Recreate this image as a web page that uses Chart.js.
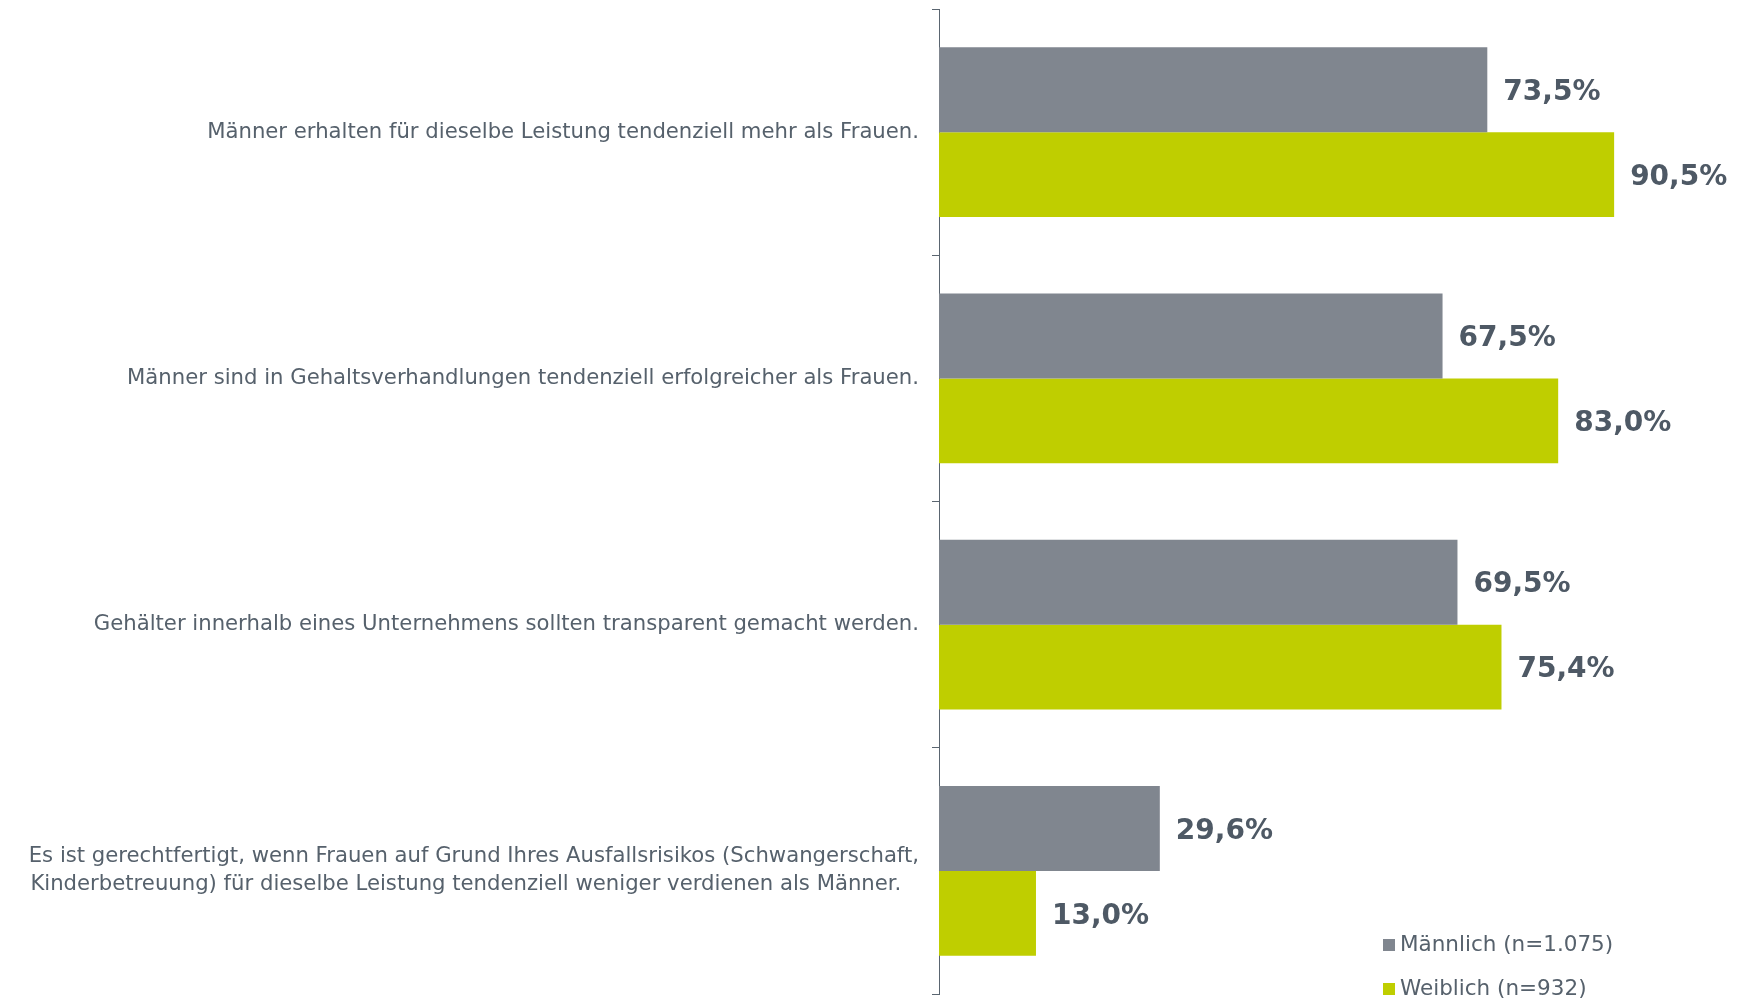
<!DOCTYPE html>
<html lang="de">
<head>
<meta charset="utf-8">
<title>Gehaltsgerechtigkeit</title>
<script src="https://cdn.jsdelivr.net/npm/chart.js@4.4.1/dist/chart.umd.min.js"></script>
<style>
  html, body { margin: 0; padding: 0; background: #ffffff; }
  #wrap { width: 1746px; height: 1003px; }
</style>
</head>
<body>
<div id="wrap"><canvas id="gehalt_cntxt" width="1746" height="1003"></canvas></div>
<script>
var aussagen = [
    "Männer erhalten für dieselbe Leistung tendenziell mehr als Frauen.",
    "Männer sind in Gehaltsverhandlungen tendenziell erfolgreicher als Frauen.",
    "Gehälter innerhalb eines Unternehmens sollten transparent gemacht werden.",
    ["Es ist gerechtfertigt, wenn Frauen auf Grund Ihres Ausfallsrisikos (Schwangerschaft,",
     "Kinderbetreuung) für dieselbe Leistung tendenziell weniger verdienen als Männer.  \u2009"]
];
var maennlich = [73.5, 67.5, 69.5, 29.6];
var weiblich = [90.5, 83.0, 75.4, 13.0];
var serien = ["Männlich (n=1.075)", "Weiblich (n=932)"];

var textFarbe = '#56616c';

function prozent(v) {
    return v.toFixed(1).replace('.', ',') + '%';
}

// Werte rechts neben die Balken schreiben
var wertLabels = {
    id: 'wertLabels',
    afterDatasetsDraw: function(chart) {
        var ctx = chart.ctx;
        ctx.save();
        ctx.font = 'bold 28px "DejaVu Sans", Verdana, sans-serif';
        ctx.fillStyle = '#4e5965';
        ctx.textAlign = 'left';
        ctx.textBaseline = 'middle';
        chart.data.datasets.forEach(function(ds, i) {
            chart.getDatasetMeta(i).data.forEach(function(bar, j) {
                ctx.fillText(prozent(ds.data[j]), bar.x + 16, bar.y + 3);
            });
        });
        ctx.restore();
    }
};

// Legende unten rechts, untereinander
var legendeUnten = {
    id: 'legendeUnten',
    afterDraw: function(chart) {
        var ctx = chart.ctx;
        ctx.save();
        ctx.font = '21.5px "DejaVu Sans", Verdana, sans-serif';
        ctx.textBaseline = 'middle';
        ctx.textAlign = 'left';
        chart.data.datasets.forEach(function(ds, i) {
            var y = 945 + i * 44;
            ctx.fillStyle = ds.backgroundColor;
            ctx.fillRect(1383, y - 6, 12, 12);
            ctx.fillStyle = textFarbe;
            ctx.fillText(ds.label, 1400, y);
        });
        ctx.restore();
    }
};

var current_cntxt = document.getElementById("gehalt_cntxt").getContext('2d');
var gehalt_chart = new Chart(current_cntxt, {
    type: 'bar',
    data: {
        labels: aussagen,
        datasets: [{
            label: serien[0],
            data: maennlich,
            backgroundColor: '#80868f',
            categoryPercentage: 0.69,
            barPercentage: 1.0
        }, {
            label: serien[1],
            data: weiblich,
            backgroundColor: '#bfce00',
            categoryPercentage: 0.69,
            barPercentage: 1.0
        }]
    },
    options: {
        indexAxis: 'y',
        responsive: false,
        animation: false,
        layout: { padding: { top: 9, bottom: 9, right: 61, left: 0 } },
        plugins: {
            legend: { display: false },
            tooltip: { enabled: false }
        },
        scales: {
            x: {
                display: false,
                min: 0,
                max: 100
            },
            y: {
                afterFit: function(scale) {
                    scale.width = 939;
                    scale.paddingTop = 0;
                    scale.paddingBottom = 0;
                },
                border: { display: true, color: '#5a6570', width: 1 },
                grid: {
                    drawOnChartArea: false,
                    drawTicks: true,
                    tickLength: 7,
                    tickColor: '#5a6570',
                    offset: true
                },
                ticks: {
                    padding: 13,
                    color: textFarbe,
                    font: { family: '"DejaVu Sans", Verdana, sans-serif', size: 21.2, lineHeight: 1.32 }
                }
            }
        }
    },
    plugins: [wertLabels, legendeUnten]
});
</script>
</body>
</html>
